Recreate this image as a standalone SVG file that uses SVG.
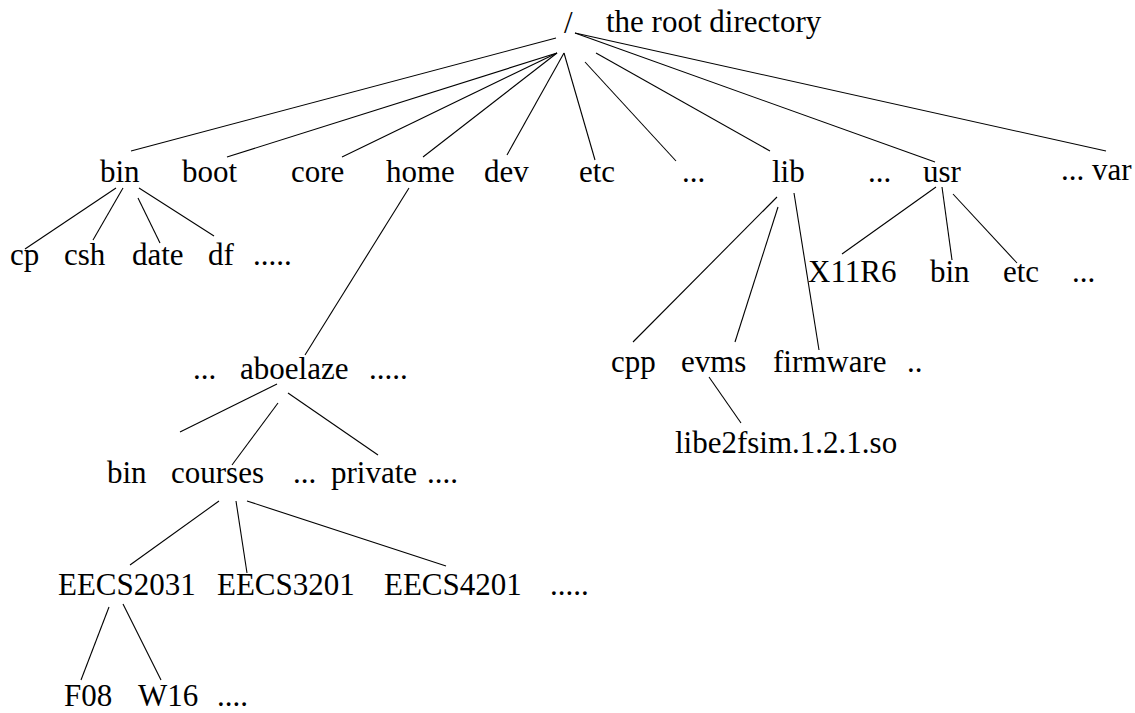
<svg xmlns="http://www.w3.org/2000/svg" width="1135" height="713" viewBox="0 0 1135 713">
<style>
text{font-family:'Liberation Serif','Times New Roman','DejaVu Serif',Times,serif;font-size:31px;fill:#000}
.c line{stroke:#000;stroke-width:1.1;fill:none}
</style>
<rect width="1135" height="713" fill="#fff"/>
<g class="c" id="connectors">
<line x1="556" y1="38" x2="131" y2="151"/>
<line x1="557" y1="53" x2="227" y2="157"/>
<line x1="557" y1="53" x2="342" y2="157"/>
<line x1="557" y1="53" x2="423" y2="157"/>
<line x1="564" y1="53" x2="507" y2="155"/>
<line x1="564" y1="53" x2="595" y2="160"/>
<line x1="585" y1="62" x2="676" y2="161"/>
<line x1="596" y1="53" x2="770" y2="151"/>
<line x1="575" y1="33" x2="935" y2="162"/>
<line x1="575" y1="33" x2="1106" y2="151"/>
<line x1="116" y1="188" x2="25" y2="249"/>
<line x1="123" y1="188" x2="93" y2="240"/>
<line x1="138" y1="198" x2="160" y2="243"/>
<line x1="139" y1="188" x2="214" y2="236"/>
<line x1="409" y1="188" x2="305" y2="355"/>
<line x1="777" y1="197" x2="633" y2="342"/>
<line x1="778" y1="207" x2="735" y2="342"/>
<line x1="794" y1="193" x2="819" y2="350"/>
<line x1="709" y1="377" x2="741" y2="423"/>
<line x1="936" y1="187" x2="842" y2="254"/>
<line x1="942" y1="187" x2="952" y2="260"/>
<line x1="953" y1="194" x2="1017" y2="263"/>
<line x1="277" y1="384" x2="180" y2="432"/>
<line x1="278" y1="403" x2="232" y2="465"/>
<line x1="288" y1="393" x2="378" y2="455"/>
<line x1="219" y1="501" x2="130" y2="565"/>
<line x1="236" y1="501" x2="247" y2="573"/>
<line x1="247" y1="501" x2="446" y2="566"/>
<line x1="109" y1="607" x2="81" y2="680"/>
<line x1="123" y1="604" x2="161" y2="680"/>
</g>
<g font-family="Liberation Serif, Times New Roman, DejaVu Serif, serif">
<g id="root"><text x="564" y="33">/</text><text x="606" y="32">the root directory</text></g>
<g id="bin"><text x="100" y="182">bin</text></g>
<g id="boot"><text x="182" y="182">boot</text></g>
<g id="core"><text x="291" y="182">core</text></g>
<g id="home"><text x="386" y="182">home</text></g>
<g id="dev"><text x="484" y="182">dev</text></g>
<g id="etc"><text x="579" y="182">etc</text></g>
<g id="dots1"><text x="682" y="182">...</text></g>
<g id="lib"><text x="772" y="182">lib</text></g>
<g id="dots2"><text x="868" y="182">...</text></g>
<g id="usr"><text x="923" y="182">usr</text></g>
<g id="var"><text x="1061" y="180">... var</text></g>
<g id="cp"><text x="10" y="265">cp</text></g>
<g id="csh"><text x="64" y="265">csh</text></g>
<g id="date"><text x="132" y="265">date</text></g>
<g id="df"><text x="208" y="265">df</text></g>
<g id="bin-more"><text x="253" y="265">.....</text></g>
<g id="x11r6"><text x="808" y="282">X11R6</text></g>
<g id="usr-bin"><text x="930" y="282">bin</text></g>
<g id="usr-etc"><text x="1003" y="282">etc</text></g>
<g id="usr-more"><text x="1072" y="282">...</text></g>
<g id="cpp"><text x="611" y="372">cpp</text></g>
<g id="evms"><text x="681" y="372">evms</text></g>
<g id="firmware"><text x="773" y="372">firmware</text></g>
<g id="lib-more"><text x="907" y="372">..</text></g>
<g id="libe2fsim"><text x="675" y="453">libe2fsim.1.2.1.so</text></g>
<g id="aboelaze"><text x="193" y="379">...</text><text x="240" y="379">aboelaze</text><text x="369" y="379">.....</text></g>
<g id="home-bin"><text x="107" y="483">bin</text></g>
<g id="courses"><text x="171" y="483">courses</text></g>
<g id="home-dots"><text x="293" y="483">...</text></g>
<g id="private"><text x="331" y="483">private</text></g>
<g id="home-more"><text x="427" y="483">....</text></g>
<g id="eecs2031"><text x="58" y="595">EECS2031</text></g>
<g id="eecs3201"><text x="217" y="595">EECS3201</text></g>
<g id="eecs4201"><text x="384" y="595">EECS4201</text></g>
<g id="eecs-more"><text x="550" y="595">.....</text></g>
<g id="f08"><text x="64" y="706">F08</text></g>
<g id="w16"><text x="138" y="706">W16</text></g>
<g id="f-more"><text x="217" y="706">....</text></g>
</g>
</svg>
